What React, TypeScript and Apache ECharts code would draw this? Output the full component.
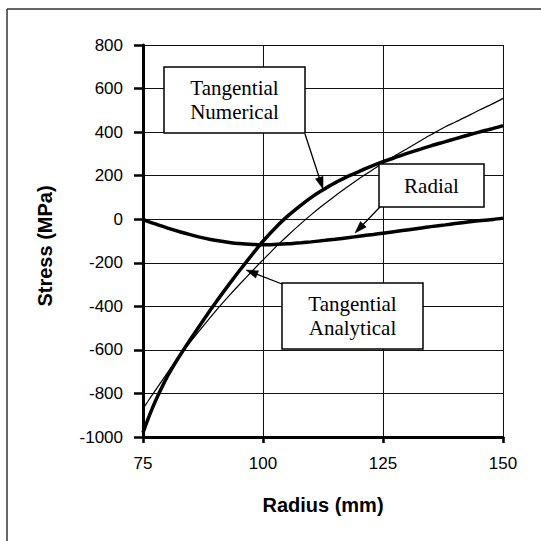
import React, { useEffect, useRef } from "react";
import * as echarts from "echarts";

const radiusTicks = [75, 100, 125, 150];
const stressTicks = [-1000, -800, -600, -400, -200, 0, 200, 400, 600, 800];

const numericalR = [75, 76, 77, 78, 80, 82, 85, 88, 90, 93, 95, 98, 100, 103, 105, 108, 110, 112, 115, 118, 120, 122, 125, 128, 130, 133, 135, 138, 140, 143, 145, 148, 150];
const numericalS = [-980, -920, -865, -815, -725, -650, -548, -450, -387, -297, -239, -155, -101, -30, 12, 66, 99, 128, 167, 200, 219, 238, 264, 287, 302, 323, 337, 356, 369, 388, 400, 417, 430];

const analyticalR = [75, 76, 77, 78, 80, 82, 85, 88, 90, 93, 95, 98, 100, 103, 105, 108, 110, 112, 115, 118, 120, 122, 125, 128, 130, 133, 135, 138, 140, 143, 145, 148, 150];
const analyticalS = [-870, -837, -804, -772, -708, -645, -560, -478, -425, -350, -302, -232, -187, -120, -78, -18, 20, 56, 107, 155, 186, 215, 258, 298, 324, 363, 388, 425, 445, 478, 500, 532, 555];

const radialR = [75, 76, 78, 80, 83, 85, 88, 90, 93, 95, 98, 100, 103, 105, 108, 110, 113, 115, 118, 120, 123, 125, 128, 130, 133, 135, 138, 140, 143, 145, 148, 150];
const radialS = [0, -10, -25, -40, -60, -72, -88, -97, -107, -112, -116, -117, -115, -113, -108, -104, -97, -92, -84, -78, -70, -64, -55, -49, -40, -34, -26, -20, -12, -7, -1, 5];

const labelNumerical = ["Tangential", "Numerical"];
const labelRadial = ["Radial"];
const labelAnalytical = ["Tangential", "Analytical"];

function pairs(xs: number[], ys: number[]) {
  return xs.map((x, i) => [x, ys[i]]);
}

function arrow(x1: number, y1: number, x2: number, y2: number) {
  const dx = x2 - x1;
  const dy = y2 - y1;
  const len = Math.sqrt(dx * dx + dy * dy);
  const ux = dx / len;
  const uy = dy / len;
  const hl = 12;
  const hw = 4;
  const bx = x2 - ux * hl;
  const by = y2 - uy * hl;
  const px = -uy * hw;
  const py = ux * hw;
  return [
    {
      type: "line",
      shape: { x1, y1, x2: bx + ux * 2, y2: by + uy * 2 },
      style: { stroke: "#000", lineWidth: 1.3 },
      z: 10,
    },
    {
      type: "polygon",
      shape: { points: [[x2, y2], [bx + px, by + py], [bx - px, by - py]] },
      style: { fill: "#000", stroke: "#000", lineWidth: 0.5 },
      z: 10,
    },
  ];
}

function box(x: number, y: number, w: number, h: number, lines: string[]) {
  const lh = 24;
  const cy = y + h / 2;
  const start = cy - ((lines.length - 1) * lh) / 2;
  const els: any[] = [
    {
      type: "rect",
      shape: { x, y, width: w, height: h },
      style: { fill: "#fff", stroke: "#000", lineWidth: 1.5 },
      z: 10,
    },
  ];
  lines.forEach((t, i) => {
    els.push({
      type: "text",
      x: x + w / 2,
      y: start + i * lh,
      style: {
        text: t,
        fill: "#000",
        font: '21px "Liberation Serif", "Times New Roman", serif',
        align: "center",
        verticalAlign: "middle",
      },
      z: 11,
    });
  });
  return els;
}

export default function App() {
  const ref = useRef<HTMLDivElement>(null);
  useEffect(() => {
    if (!ref.current) return;
    const chart = echarts.init(ref.current, undefined, { renderer: "svg" });
    const font = '"Liberation Sans", Arial, sans-serif';
    const option: any = {
      animation: false,
      backgroundColor: "#fff",
      grid: { left: 143, top: 45, width: 360, height: 392, containLabel: false },
      xAxis: {
        type: "value",
        min: radiusTicks[0],
        max: radiusTicks[radiusTicks.length - 1],
        interval: 25,
        name: "Radius (mm)",
        nameLocation: "middle",
        nameGap: 58,
        nameTextStyle: { fontFamily: font, fontSize: 20, fontWeight: "bold", color: "#000" },
        axisLine: { show: true, onZero: false, lineStyle: { color: "#000", width: 3 } },
        axisTick: { show: true, length: 6, lineStyle: { color: "#000", width: 2.5 } },
        axisLabel: { fontFamily: font, fontSize: 17, color: "#000", margin: 18, formatter: (v: number) => String(v) },
        splitLine: { show: true, lineStyle: { color: "#111", width: 1 } },
      },
      yAxis: {
        type: "value",
        min: stressTicks[0],
        max: stressTicks[stressTicks.length - 1],
        interval: 200,
        axisLine: { show: true, onZero: false, lineStyle: { color: "#000", width: 3 } },
        axisTick: { show: true, length: 9, lineStyle: { color: "#000", width: 2.5 } },
        axisLabel: { fontFamily: font, fontSize: 17, color: "#000", margin: 20, formatter: (v: number) => String(v) },
        splitLine: { show: true, lineStyle: { color: "#111", width: 1 } },
      },
      series: [
        {
          type: "line",
          name: "Tangential Analytical",
          data: pairs(analyticalR, analyticalS),
          showSymbol: false,
          smooth: 0.3,
          lineStyle: { color: "#000", width: 1.2 },
          z: 3,
        },
        {
          type: "line",
          name: "Tangential Numerical",
          data: pairs(numericalR, numericalS),
          showSymbol: false,
          smooth: 0.3,
          lineStyle: { color: "#000", width: 3.5 },
          z: 4,
        },
        {
          type: "line",
          name: "Radial",
          data: pairs(radialR, radialS),
          showSymbol: false,
          smooth: 0.3,
          lineStyle: { color: "#000", width: 3.5 },
          z: 4,
        },
      ],
      graphic: [
        {
          type: "line",
          shape: { x1: 7, y1: 9, x2: 541, y2: 9 },
          style: { stroke: "#333", lineWidth: 1.5 },
        },
        {
          type: "line",
          shape: { x1: 7, y1: 9, x2: 7, y2: 541 },
          style: { stroke: "#333", lineWidth: 1.5 },
        },
        {
          type: "text",
          x: 45,
          y: 246,
          rotation: Math.PI / 2,
          style: {
            text: "Stress (MPa)",
            fill: "#000",
            font: 'bold 20px "Liberation Sans", Arial, sans-serif',
            align: "center",
            verticalAlign: "middle",
          },
        },
        ...arrow(305, 134, 323, 189),
        ...arrow(380, 207, 355, 233),
        ...arrow(282, 284, 246, 270),
        ...box(164, 67, 141, 66, labelNumerical),
        ...box(379, 164, 105, 43, labelRadial),
        ...box(282, 283, 141, 66, labelAnalytical),
      ],
    };
    chart.setOption(option);
    return () => chart.dispose();
  }, []);
  return (
    <div
      ref={ref}
      style={{ position: "absolute", left: 0, top: 0, width: 541, height: 541, background: "#fff" }}
    />
  );
}
